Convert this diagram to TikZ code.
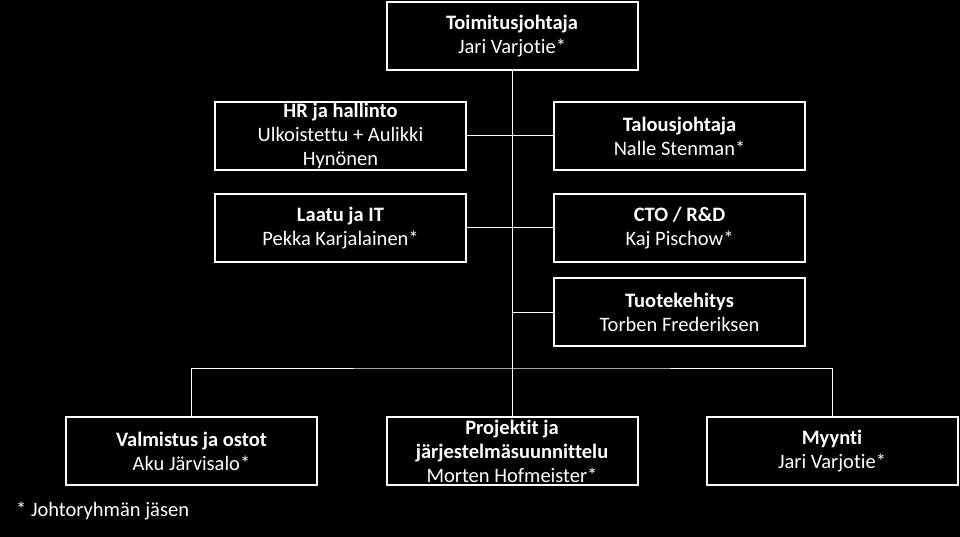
\documentclass[tikz,border=0pt]{standalone}
\usepackage{fontspec}
\setmainfont[Ligatures=NoCommon]{Carlito}
\usepackage{tikz}
\usetikzlibrary{positioning}

\begin{document}
\begin{tikzpicture}[
      x=1pt,y=-1pt,
      font=\fontsize{20.5}{24}\selectfont,
      unit/.style={draw=white,fill=black,text=white,line width=2pt,minimum width=251pt,minimum height=68pt,inner sep=0pt,align=center},
      link/.style={draw=white,line width=1pt}
    ]
      \fill[black] (0,0) rectangle (960,537);
      \useasboundingbox (0,0) rectangle (960,537);

      \node[unit] (ceo) at (512,36.5) {\textbf{Toimitusjohtaja}\\Jari Varjotie*};
      \node[unit] (hr) at (340.5,136) {\textbf{HR ja hallinto}\\Ulkoistettu + Aulikki\\Hynönen};
      \node[unit] (cfo) at (679.5,136) {\textbf{Talousjohtaja}\\Nalle Stenman*};
      \node[unit] (qit) at (340.5,228) {\textbf{Laatu ja IT}\\Pekka Karjalainen*};
      \node[unit] (cto) at (679.5,228) {\textbf{CTO / R\&D}\\Kaj Pischow*};
      \node[unit] (dev) at (679.5,312) {\textbf{Tuotekehitys}\\Torben Frederiksen};
      \node[unit] (prod) at (191.5,451) {\textbf{Valmistus ja ostot}\\Aku Järvisalo*};
      \node[unit] (proj) at (512,451) {\textbf{Projektit ja}\\\textbf{järjestelmäsuunnittelu}\\Morten Hofmeister*};
      \node[unit] (sales) at (832,451) {\textbf{Myynti}\\Jari Varjotie*};
      \node[anchor=west,text=white,inner sep=0pt] (note) at (16,511) {* Johtoryhmän jäsen};

      \coordinate (bar) at (512,368);
      \draw[link] (ceo.south) -- (proj.north);
      \draw[link] (hr.east) -- (cfo.west);
      \draw[link] (qit.east) -- (cto.west);
      \draw[link] (dev.west) -- (ceo.south |- dev.west);
      \draw[link] (prod.north) |- (bar) -| (sales.north);
    \end{tikzpicture}
\end{document}
